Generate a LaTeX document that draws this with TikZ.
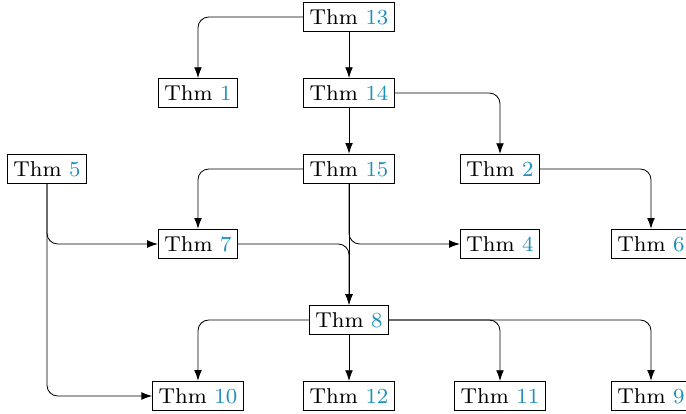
\documentclass[tikz,border=0pt]{standalone}
\usetikzlibrary{arrows.meta}
\definecolor{numblue}{RGB}{30,144,190}
\tikzset{
  thm/.style={draw, fill=white, inner xsep=2.8pt, inner ysep=3.3pt, line width=0.4pt},
  conn/.style={-{Latex[length=5pt,width=3.6pt]}, rounded corners=5pt, line width=0.4pt},
}
\newcommand{\thmlab}[1]{\scalebox{1.25}{\fontsize{8}{10}\selectfont Thm \textcolor{numblue}{#1}}}
\begin{document}
\begin{tikzpicture}[x=1pt,y=1pt]
\useasboundingbox (0,0) rectangle (319.07,-192.56);
\node[thm] (t13) at (162.33,-7.91) {\thmlab{13}};
\node[thm] (t1)  at (92.09,-43.26) {\thmlab{1}};
\node[thm] (t14) at (162.33,-43.26) {\thmlab{14}};
\node[thm] (t5)  at (21.86,-78.60) {\thmlab{5}};
\node[thm] (t15) at (162.33,-78.60) {\thmlab{15}};
\node[thm] (t2)  at (232.56,-78.60) {\thmlab{2}};
\node[thm] (t7)  at (92.09,-113.49) {\thmlab{7}};
\node[thm] (t4)  at (232.56,-113.49) {\thmlab{4}};
\node[thm] (t6)  at (302.79,-113.49) {\thmlab{6}};
\node[thm] (t8)  at (162.33,-148.84) {\thmlab{8}};
\node[thm] (t10) at (92.09,-184.19) {\thmlab{10}};
\node[thm] (t12) at (162.33,-184.19) {\thmlab{12}};
\node[thm] (t11) at (232.56,-184.19) {\thmlab{11}};
\node[thm] (t9)  at (302.79,-184.19) {\thmlab{9}};
\draw[conn] (t13.west) -| (t1.north);
\draw[conn] (t13.south) -- (t14.north);
\draw[conn] (t14.south) -- (t15.north);
\draw[conn] (t14.east) -| (t2.north);
\draw[conn] (t15.west) -| (t7.north);
\draw[conn] (t15.south) |- (t4.west);
\draw[conn] (t15.south) -- (t8.north);
\draw[conn] (t2.east) -| (t6.north);
\draw[conn] (t5.south) |- (t7.west);
\draw[conn] (t5.south) |- (t10.west);
\draw[conn] (t7.east) -| (t8.north);
\draw[conn] (t8.west) -| (t10.north);
\draw[conn] (t8.south) -- (t12.north);
\draw[conn] (t8.east) -| (t11.north);
\draw[conn] (t8.east) -| (t9.north);
\end{tikzpicture}
\end{document}
